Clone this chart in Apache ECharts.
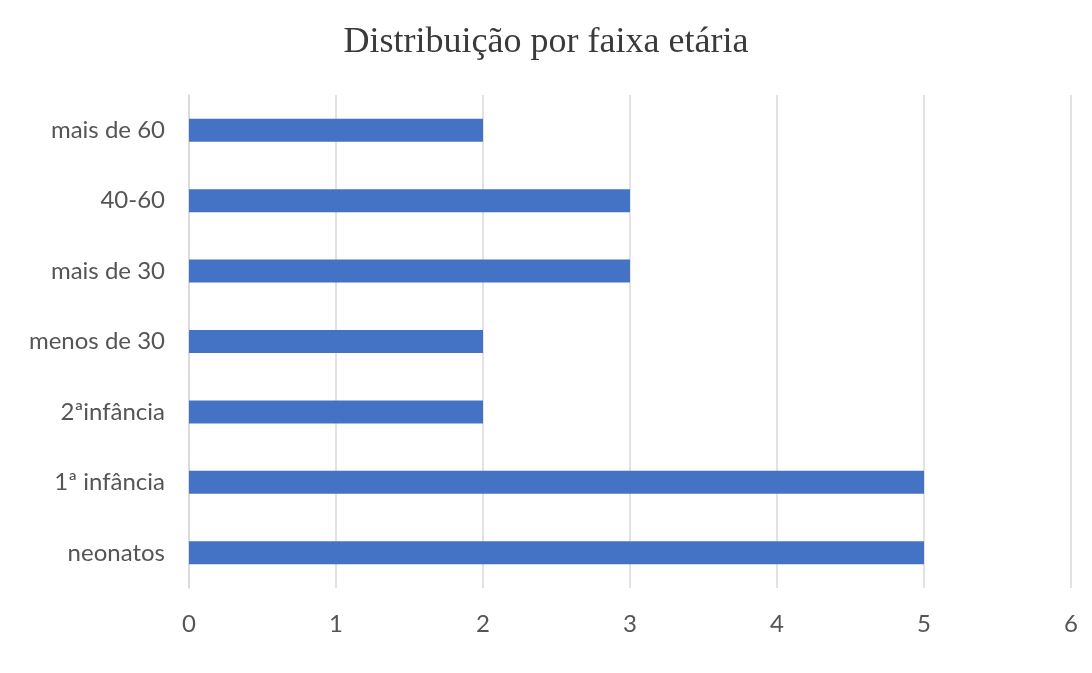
<!DOCTYPE html>
<html>
<head>
<meta charset="utf-8">
<script src="https://cdn.jsdelivr.net/npm/echarts@6/dist/echarts.min.js"></script>
<style>
  html, body { margin: 0; padding: 0; background: #fff; }
  #bar { width: 1092px; height: 673px; }
</style>
</head>
<body>
<div id="bar"></div>
<script>
// faixas etárias, de baixo para cima como no eixo
const categories = ['neonatos', '1ª infância', '2ªinfância', 'menos de 30', 'mais de 30', '40-60', 'mais de 60'];
const counts = [5, 5, 2, 2, 3, 3, 2];
const xTicks = [0, 1, 2, 3, 4, 5, 6];

const chart = echarts.init(document.getElementById('bar'));

chart.setOption({
  backgroundColor: '#ffffff',
  animation: false,
  title: {
    text: 'Distribuição por faixa etária',
    left: 'center',
    top: 20,
    textStyle: {
      fontFamily: 'Liberation Serif',
      fontWeight: 'normal',
      fontSize: 36,
      color: '#3a3a3a'
    }
  },
  grid: {
    left: 189,
    right: 21,
    top: 95,
    bottom: 85
  },
  xAxis: {
    type: 'value',
    min: xTicks[0],
    max: xTicks[xTicks.length - 1],
    interval: 1,
    axisLine: { show: false },
    axisTick: { show: false },
    axisLabel: {
      margin: 24,
      fontFamily: 'Lato',
      fontSize: 24,
      color: '#555555'
    },
    splitLine: {
      show: true,
      lineStyle: { color: '#d9d9d9', width: 1.5 }
    }
  },
  yAxis: {
    type: 'category',
    data: categories,
    axisLine: { show: true, lineStyle: { color: '#d9d9d9', width: 1.5 } },
    axisTick: { show: false },
    axisLabel: {
      margin: 24,
      fontFamily: 'Lato',
      fontSize: 24,
      color: '#555555'
    }
  },
  series: [
    {
      name: 'faixa etária',
      type: 'bar',
      data: counts,
      barWidth: 23,
      itemStyle: { color: '#4472c4' }
    }
  ]
});
</script>
</body>
</html>
